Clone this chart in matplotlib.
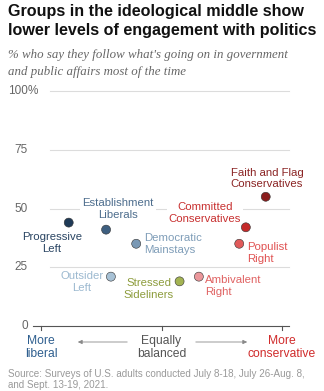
import matplotlib
matplotlib.use("Agg")
import matplotlib.pyplot as plt

# ideology position (-1 = more liberal, 1 = more conservative) and % who follow
groups = ["Progressive\nLeft", "Establishment\nLiberals", "Democratic\nMainstays",
          "Outsider\nLeft", "Stressed\nSideliners", "Ambivalent\nRight",
          "Populist\nRight", "Committed\nConservatives", "Faith and Flag\nConservatives"]
ideology = [-0.77, -0.46, -0.21, -0.42, 0.15, 0.31, 0.645, 0.70, 0.865]
follow = [44, 41, 35, 21, 19, 21, 35, 42, 55]
dot_colors = ["#1f3a57", "#3e5f80", "#7a99b5", "#a7c1d5", "#a3b352",
              "#eb979b", "#e05a5a", "#c42a2a", "#8a1d1d"]
text_colors = ["#2a4563", "#4d6d8d", "#7f9db8", "#9cb9d0", "#8d9c3c",
               "#e06262", "#e05252", "#c83030", "#8b2424"]
yticks = [0, 25, 50, 75, 100]

W, H = 324, 391
fig = plt.figure(figsize=(W / 100, H / 100), dpi=100)
plt.rcParams["font.family"] = ["Liberation Sans", "DejaVu Sans"]

# pixel helpers
def fx(px):
    return px / W

def fy(py):
    return 1 - py / H

ax_l, ax_r, y0, y100 = 33, 289, 326, 91
ax = fig.add_axes([fx(ax_l), fy(y0), fx(ax_r - ax_l), (y0 - y100) / H])
xscale = 120.5
xc = 161.5
ax.set_xlim((ax_l - xc) / xscale, (ax_r - xc) / xscale)
ax.set_ylim(0, 100)
ax.axis("off")

def dx(px):
    return (px - xc) / xscale

def dy(py):
    return (y0 - py) * 100 / (y0 - y100)

# gridlines
for t in yticks[1:]:
    ax.plot([dx(50), dx(ax_r)], [t, t], color="#dcdcdc", lw=0.8, zorder=0,
            clip_on=False)
ax.plot([dx(ax_l), dx(ax_r)], [0, 0], color="#555555", lw=0.8, clip_on=False)
for t in [-1, 0, 1]:
    ax.plot([t, t], [0, dy(y0 + 4)], color="#555555", lw=0.8, clip_on=False)

# y tick labels
for t in yticks:
    fig.text(fx(28), fy(y0 - t * (y0 - y100) / 100), str(t), ha="right",
             va="center", fontsize=8.5, color="#666666")
fig.text(fx(28), fy(y100), "%", ha="left", va="center", fontsize=8.5,
         color="#666666")

ax.scatter(ideology, follow, s=42, c=dot_colors, edgecolors="#333333",
           linewidths=0.4, zorder=3, clip_on=False)

# label positions in pixels (x, y center, ha)
label_pos = [(52, 243, "center"), (118, 209, "center"), (144, 244, "left"),
             (82, 282, "center"), (149, 289, "center"), (205, 286, "left"),
             (247, 253, "left"), (205, 213, "center"), (267, 178.5, "center")]
for name, (px, py, ha), col in zip(groups, label_pos, text_colors):
    ax.text(dx(px), dy(py), name, ha=ha, va="center", fontsize=8.2,
            color=col, linespacing=1.15, zorder=2,
            bbox=dict(facecolor="white", edgecolor="none", pad=1.5))

# bottom labels
fig.text(fx(41), fy(347.5), "More\nliberal", ha="center", va="center",
         fontsize=8.7, color="#2f5f8f", linespacing=1.05)
fig.text(fx(161.5), fy(347.5), "Equally\nbalanced", ha="center", va="center",
         fontsize=8.7, color="#555555", linespacing=1.05)
fig.text(fx(282), fy(347.5), "More\nconservative", ha="center", va="center",
         fontsize=8.7, color="#d02c2c", linespacing=1.05)
fig.add_artist(matplotlib.patches.FancyArrowPatch(
    (fx(130), fy(342)), (fx(75), fy(342)), transform=fig.transFigure,
    arrowstyle="-|>,head_length=2.5,head_width=1.2", color="#888888", lw=0.6))
fig.add_artist(matplotlib.patches.FancyArrowPatch(
    (fx(193), fy(342)), (fx(250), fy(342)), transform=fig.transFigure,
    arrowstyle="-|>,head_length=2.5,head_width=1.2", color="#888888", lw=0.6))

# title, subtitle, source
fig.text(fx(8), fy(4), "Groups in the ideological middle show\nlower levels of engagement with politics",
         ha="left", va="top", fontsize=11.6, fontweight="bold", color="#111111",
         linespacing=1.3)
fig.text(fx(8), fy(49), "% who say they follow what's going on in government\nand public affairs most of the time",
         ha="left", va="top", fontsize=9.3, fontstyle="italic",
         family=["Liberation Serif", "DejaVu Serif"], color="#666666",
         linespacing=1.5)
fig.text(fx(8), fy(379.5), "Source: Surveys of U.S. adults conducted July 8-18, July 26-Aug. 8,\nand Sept. 13-19, 2021.",
         ha="left", va="center", fontsize=7.1, color="#999999", linespacing=1.1)

fig.savefig("out.png", dpi=100)
